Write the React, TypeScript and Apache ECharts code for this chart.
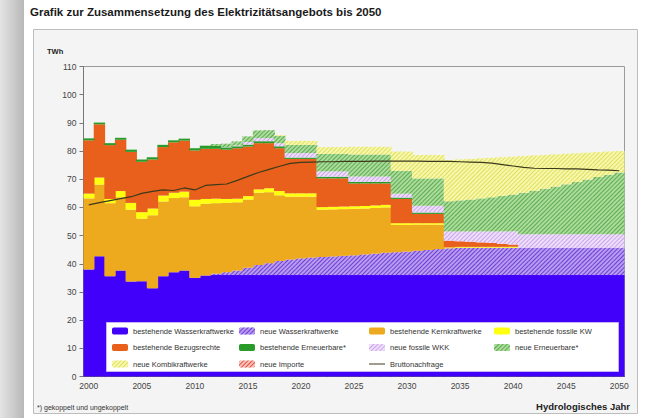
import { useEffect, useRef } from "react";
import * as echarts from "echarts";

const years = [
  "2000","2001","2002","2003","2004","2005","2006","2007","2008","2009",
  "2010","2011","2012","2013","2014","2015","2016","2017","2018","2019",
  "2020","2021","2022","2023","2024","2025","2026","2027","2028","2029",
  "2030","2031","2032","2033","2034","2035","2036","2037","2038","2039",
  "2040","2041","2042","2043","2044","2045","2046","2047","2048","2049","2050",
];

const yTicks = [0, 10, 20, 30, 40, 50, 60, 70, 80, 90, 100, 110];

// TWh per year (stacked increments)
const bestehendeWasserkraftwerke = [
  38.0, 42.7, 35.6, 37.6, 33.7, 33.8, 31.3, 35.6, 37.0, 37.6, 35.0, 35.8,
  36.0, 36.0, 36.0, 36.0, 36.0, 36.0, 36.0, 36.0, 36.0, 36.0, 36.0, 36.0, 36.0, 36.0,
  36.0, 36.0, 36.0, 36.0, 36.0, 36.0, 36.0, 36.0, 36.0, 36.0, 36.0, 36.0, 36.0, 36.0,
  36.0, 36.0, 36.0, 36.0, 36.0, 36.0, 36.0, 36.0, 36.0, 36.0, 36.0,
];
const neueWasserkraftwerke = [
  0, 0, 0, 0, 0, 0, 0, 0, 0, 0, 0, 0,
  0.5, 1.0, 1.6, 2.6, 3.6, 4.2, 5.0, 5.5, 5.9, 6.2,
  6.4, 6.6, 6.8, 7.0, 7.3, 7.6, 7.9, 8.1, 8.3, 8.6, 8.9, 9.2,
  9.5, 9.7, 9.7, 9.7, 9.7, 9.7, 9.7, 9.7, 9.7, 9.7, 9.7, 9.7, 9.7, 9.7, 9.7, 9.7, 9.7,
];
const bestehendeKernkraftwerke = [
  25.2, 25.4, 25.9, 26.0, 25.5, 22.2, 25.9, 26.5, 26.3, 26.0, 25.4, 25.5,
  25.0, 24.6, 24.2, 24.2, 25.6, 25.2, 23.3,
  22.3, 21.9, 21.6,
  16.8, 16.7, 16.6, 16.5, 16.3, 16.2, 16.1,
  9.7, 9.5, 9.3, 9.0, 8.7,
  0, 0, 0, 0, 0, 0, 0, 0, 0, 0, 0, 0, 0, 0, 0, 0, 0,
];
const bestehendeFossileKW = [
  1.7, 2.5, 1.5, 2.2, 2.4, 2.3, 2.4, 2.1, 1.9, 2.0, 2.3, 1.7,
  1.6, 1.4, 1.3, 1.2, 1.2, 1.4, 1.5,
  1.2, 1.2, 1.2,
  0.9, 0.9, 0.9, 0.9, 0.9, 0.9, 0.9,
  0.6, 0.6, 0.5, 0.5, 0.5,
  0.3, 0.3, 0.3, 0.3, 0.3, 0.3, 0.3,
  0, 0, 0, 0, 0, 0, 0, 0, 0, 0,
];
const bestehendeBezugsrechte = [
  18.9, 18.9, 19.1, 18.2, 18.1, 17.9, 17.4, 17.2, 17.9, 18.1, 17.5, 17.8,
  17.7, 17.5, 17.9, 17.6, 16.4, 16.0, 15.2,
  12.2, 12.2, 12.2,
  10.2, 10.1, 10.0, 8.1, 8.0, 7.8, 7.6,
  8.6, 8.6, 3.3, 3.3, 3.3,
  2.4, 2.0, 1.8, 1.6, 1.4, 1.1, 0.8,
  0, 0, 0, 0, 0, 0, 0, 0, 0, 0,
];
const bestehendeErneuerbare = [
  0.7, 0.6, 0.7, 0.7, 0.8, 0.8, 0.8, 0.8, 0.7, 0.7, 0.8, 1.1,
  1.0, 0.8, 0.7, 0.7, 0.7, 0.7, 0.7,
  0.5, 0.5, 0.5,
  0.6, 0.6, 0.6, 0.6, 0.6, 0.6, 0.6,
  0.5, 0.5, 0.5, 0.5, 0.5,
  0, 0, 0, 0, 0, 0, 0, 0, 0, 0, 0, 0, 0, 0, 0, 0, 0,
];
const neueFossileWKK = [
  0, 0, 0, 0, 0, 0, 0, 0, 0, 0, 0, 0,
  0, 0.1, 0.3, 0.9, 1.1, 1.1, 1.1,
  1.6, 1.6, 1.6,
  1.9, 1.9, 1.9, 1.9, 1.9, 1.9, 1.9,
  1.4, 1.4, 2.4, 2.4, 2.4,
  3.3, 3.5, 3.7, 3.9, 4.1, 4.4, 4.7,
  4.8, 4.8, 4.8, 4.8, 4.8, 4.8, 4.8, 4.8, 4.8, 4.8,
];
const neueErneuerbare = [
  0, 0, 0, 0, 0, 0, 0, 0, 0, 0, 0, 0,
  0.7, 1.2, 1.4, 2.0, 2.7, 2.8, 2.6,
  2.9, 2.9, 2.9,
  6.2, 6.2, 6.2, 7.8, 7.8, 7.8, 7.8,
  8.1, 8.1, 9.7, 9.7, 9.7,
  10.7, 11.0, 11.3, 11.7, 12.1, 12.6, 13.1,
  14.7, 15.4, 16.1, 16.9, 17.7, 18.5, 19.4, 20.3, 21.1, 21.9,
];
const neueKombikraftwerke = [
  0, 0, 0, 0, 0, 0, 0, 0, 0, 0, 0, 0,
  0, 0, 0, 0, 0, 0, 0.3,
  1.4, 1.4, 1.4,
  2.4, 2.4, 2.4, 2.7, 2.7, 2.7, 2.7,
  6.8, 6.8, 8.3, 8.3, 8.3,
  14.6, 14.5, 14.4, 14.2, 14.0, 13.7, 13.4,
  13.0, 12.5, 12.0, 11.4, 10.8, 10.2, 9.5, 8.8, 8.2, 7.6,
];
const neueImporte = [
  0, 0, 0, 0, 0, 0, 0, 0, 0, 0, 0, 0, 0, 0, 0, 0, 0, 0, 0, 0,
  0, 0, 0, 0, 0, 0, 0, 0, 0, 0, 0, 0, 0, 0, 0, 0, 0, 0, 0, 0,
  0, 0, 0, 0, 0, 0, 0, 0, 0, 0, 0,
];
const bruttonachfrage = [
  60.9, 61.7, 62.4, 63.1, 63.8, 65.0, 65.7, 66.2, 66.0, 66.9,
  66.2, 67.8, 68.1, 68.3, 69.6, 71.0, 72.4, 73.5, 74.6, 75.6,
  76.0, 76.1, 76.2, 76.2, 76.3, 76.3, 76.3, 76.4, 76.4, 76.4,
  76.4, 76.4, 76.3, 76.3, 76.3, 76.2, 76.1, 76.0, 75.7, 75.2,
  74.7, 74.2, 73.9, 73.8, 73.8, 73.7, 73.7, 73.5, 73.3, 73.2, 73.0,
];

const FONT = "Liberation Sans, Arial, sans-serif";

const hatch = (line: string) => ({
  symbol: "rect",
  symbolSize: 1,
  dashArrayX: [1, 0],
  dashArrayY: [1, 2],
  rotation: -Math.PI / 4,
  color: line,
});

function bar(name: string, data: number[], color: string, decalColor?: string) {
  return {
    name,
    type: "bar",
    stack: "total",
    data,
    // slightly wider than one category so that adjacent years join without seams
    barWidth: 11.4,
    barGap: "-100%",
    itemStyle: decalColor ? { color, decal: hatch(decalColor) } : { color },
    emphasis: { disabled: true },
  };
}

export default function App() {
  const ref = useRef<HTMLDivElement>(null);
  useEffect(() => {
    if (!ref.current) return;
    const chart = echarts.init(ref.current, undefined, { renderer: "svg" });
    const legendCommon = {
      orient: "vertical",
      top: 326,
      itemWidth: 16,
      itemHeight: 7,
      itemGap: 6.5,
      padding: 0,
      selectedMode: false,
      z: 6,
      textStyle: { fontSize: 7.5, color: "#333", lineHeight: 10, fontFamily: FONT },
    };
    chart.setOption({
      animation: false,
      backgroundColor: "#ffffff",
      title: {
        text: "Grafik zur Zusammensetzung des Elektrizitätsangebots bis 2050",
        left: 30,
        top: 6,
        padding: 0,
        textStyle: { fontSize: 11.5, fontWeight: "bold", color: "#1a1a1a", fontFamily: FONT },
      },
      graphic: [
        {
          type: "rect",
          z: -10,
          shape: { x: 0, y: 0, width: 24, height: 418 },
          style: {
            fill: new echarts.graphic.LinearGradient(0, 0, 1, 0, [
              { offset: 0, color: "#e4e4e4" },
              { offset: 1, color: "#b8b8b8" },
            ]),
          },
        },
        {
          type: "rect",
          z: -9,
          shape: { x: 33.5, y: 29.5, width: 604, height: 384 },
          style: { fill: "#f4f4f4", stroke: "#bdbdbd", lineWidth: 1 },
        },
        {
          type: "text",
          z: 5,
          x: 47,
          y: 47,
          style: { text: "TWh", fontSize: 7.5, fontWeight: "bold", fill: "#222", fontFamily: FONT },
        },
        {
          type: "rect",
          z: 3,
          shape: { x: 106.5, y: 322.5, width: 512, height: 49 },
          style: { fill: "#ffffff", stroke: "#c8b4f2", lineWidth: 1 },
        },
        {
          type: "text",
          z: 5,
          x: 37,
          y: 404,
          style: { text: "*) gekoppelt und ungekoppelt", fontSize: 7, fill: "#333", fontFamily: FONT },
        },
        {
          type: "text",
          z: 5,
          x: 630,
          y: 401,
          style: {
            text: "Hydrologisches Jahr",
            fontSize: 9.5,
            fontWeight: "bold",
            fill: "#222",
            align: "right",
            fontFamily: FONT,
          },
        },
      ],
      legend: [
        {
          ...legendCommon,
          left: 112,
          data: ["bestehende Wasserkraftwerke", "bestehende Bezugsrechte", "neue Kombikraftwerke"],
        },
        {
          ...legendCommon,
          left: 239,
          data: ["neue Wasserkraftwerke", "bestehende Erneuerbare*", "neue Importe"],
        },
        {
          ...legendCommon,
          left: 369,
          data: [
            "bestehende Kernkraftwerke",
            "neue fossile WKK",
            { name: "Bruttonachfrage", icon: "path://M0,0 L16,0 L16,1 L0,1 Z" },
          ],
        },
        {
          ...legendCommon,
          left: 494,
          data: ["bestehende fossile KW", "neue Erneuerbare*"],
        },
      ],
      grid: {
        left: 83.5,
        right: 20.5,
        top: 66.5,
        bottom: 41.5,
        show: true,
        backgroundColor: "#f4f4f4",
        borderColor: "#9a9a9a",
        borderWidth: 1,
      },
      xAxis: {
        type: "category",
        data: years,
        boundaryGap: true,
        axisLine: { lineStyle: { color: "#666" } },
        axisTick: { interval: 0, length: 3, lineStyle: { color: "#666" } },
        axisLabel: { interval: 4, fontSize: 8.5, color: "#444", margin: 5, fontFamily: FONT },
        splitLine: { show: false },
      },
      yAxis: {
        type: "value",
        min: yTicks[0],
        max: yTicks[yTicks.length - 1],
        interval: 10,
        axisLine: { show: true, lineStyle: { color: "#777" } },
        axisTick: { show: true, length: 4, lineStyle: { color: "#777" } },
        axisLabel: { fontSize: 8.5, color: "#444", margin: 7, fontFamily: FONT },
        splitLine: { show: false },
      },
      series: [
        bar("bestehende Wasserkraftwerke", bestehendeWasserkraftwerke, "#4100fa"),
        bar("neue Wasserkraftwerke", neueWasserkraftwerke, "#b89cf0", "#6e3ed6"),
        bar("bestehende Kernkraftwerke", bestehendeKernkraftwerke, "#eeaa1e"),
        bar("bestehende fossile KW", bestehendeFossileKW, "#ffff10"),
        bar("bestehende Bezugsrechte", bestehendeBezugsrechte, "#e8601c"),
        bar("bestehende Erneuerbare*", bestehendeErneuerbare, "#2a9a2a"),
        bar("neue fossile WKK", neueFossileWKK, "#efdffa", "#c9a4ec"),
        bar("neue Erneuerbare*", neueErneuerbare, "#acdc9c", "#5caa50"),
        bar("neue Kombikraftwerke", neueKombikraftwerke, "#f7f7b0", "#e0e05a"),
        bar("neue Importe", neueImporte, "#f8c4bc", "#e05040"),
        {
          name: "Bruttonachfrage",
          type: "line",
          data: bruttonachfrage,
          symbol: "none",
          z: 5,
          lineStyle: { color: "#3d3a1c", width: 1.2 },
          itemStyle: { color: "#3d3a1c" },
          emphasis: { disabled: true },
        },
      ],
    });
    return () => chart.dispose();
  }, []);
  return <div ref={ref} style={{ width: 645, height: 418, position: "absolute", left: 0, top: 0 }} />;
}
